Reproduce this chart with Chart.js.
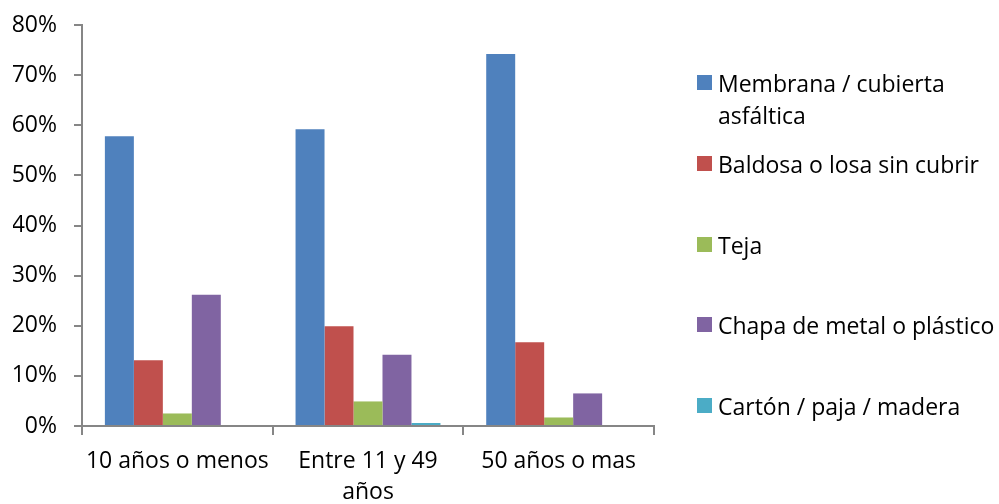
<!DOCTYPE html>
<html>
<head>
<meta charset="utf-8">
<script src="https://cdn.jsdelivr.net/npm/chart.js@4.4.1/dist/chart.umd.min.js"></script>
<style>
	html, body { margin: 0; padding: 0; background: #fff; }
	#wrap { position: relative; width: 999px; height: 504px; overflow: hidden; }
	#legend { position: absolute; left: 697px; top: 0; font-family: 'Open Sans', sans-serif; font-size: 23px; color: #000; }
	.item { position: absolute; left: 0; display: flex; align-items: flex-start; }
	.box { width: 15px; height: 15px; margin-top: 8px; margin-right: 6px; flex: none; }
	.txt { width: 285px; line-height: 32px; }
</style>
</head>
<body>
<div id="wrap">
	<canvas id="chart" width="999" height="504"></canvas>
	<div id="legend"></div>
</div>
<script>
const categories = [ '10 años o menos', [ 'Entre 11 y 49', 'años' ], '50 años o mas' ];
const seriesNames = [
	'Membrana / cubierta asfáltica',
	'Baldosa o losa sin cubrir',
	'Teja',
	'Chapa de metal o plástico',
	'Cartón / paja / madera',
];
const membrana = [ 57.8, 59.2, 74.2 ];
const baldosa = [ 13.1, 19.9, 16.7 ];
const teja = [ 2.5, 4.9, 1.7 ];
const chapa = [ 26.2, 14.2, 6.5 ];
const carton = [ 0, 0.6, 0 ];
const yTicks = [ 0, 10, 20, 30, 40, 50, 60, 70, 80 ];

const colors = [ '#4F81BD', '#C0504D', '#9BBB59', '#8064A2', '#4BACC6' ];
const values = [ membrana, baldosa, teja, chapa, carton ];
const axisColor = '#868686';
const font = { family: "'Open Sans', sans-serif", size: 23 };

const chart = new Chart( document.getElementById( 'chart' ), {
	type: 'bar',
	data: {
		labels: categories,
		datasets: values.map( ( data, i ) => ( {
			label: seriesNames[ i ],
			data,
			backgroundColor: colors[ i ],
			categoryPercentage: 0.76,
			barPercentage: 1,
		} ) ),
	},
	options: {
		responsive: false,
		animation: false,
		devicePixelRatio: 1,
		layout: {
			padding: { left: 13, right: 345, top: 25, bottom: 0 },
		},
		plugins: {
			legend: { display: false },
			tooltip: { enabled: false },
		},
		scales: {
			x: {
				offset: true,
				afterFit( axis ) {
					axis.height = 78;
				},
				border: { color: axisColor, width: 2 },
				grid: {
					offset: true,
					drawOnChartArea: false,
					color: axisColor,
					lineWidth: 2,
					tickLength: 9,
				},
				ticks: {
					color: '#000',
					font: { ...font, lineHeight: 1.36 },
					padding: 11,
					maxRotation: 0,
				},
			},
			y: {
				min: 0,
				max: 80,
				afterBuildTicks( axis ) {
					axis.ticks = yTicks.map( ( value ) => ( { value } ) );
				},
				afterFit( axis ) {
					axis.width = 69;
					axis.paddingTop = 0;
					axis.paddingBottom = 0;
				},
				border: { color: axisColor, width: 2 },
				grid: {
					drawOnChartArea: false,
					color: axisColor,
					lineWidth: 2,
					tickLength: 8,
				},
				ticks: {
					color: '#000',
					font,
					padding: 17,
					callback: ( val ) => val + '%',
				},
			},
		},
	},
} );

// legend built from the chart datasets
const legend = document.getElementById( 'legend' );
chart.data.datasets.forEach( ( ds, i ) => {
	const item = document.createElement( 'div' );
	item.className = 'item';
	item.style.top = ( 67 + i * 80.75 ) + 'px';
	const box = document.createElement( 'div' );
	box.className = 'box';
	box.style.background = ds.backgroundColor;
	const txt = document.createElement( 'div' );
	txt.className = 'txt';
	txt.textContent = ds.label;
	item.appendChild( box );
	item.appendChild( txt );
	legend.appendChild( item );
} );
</script>
</body>
</html>
